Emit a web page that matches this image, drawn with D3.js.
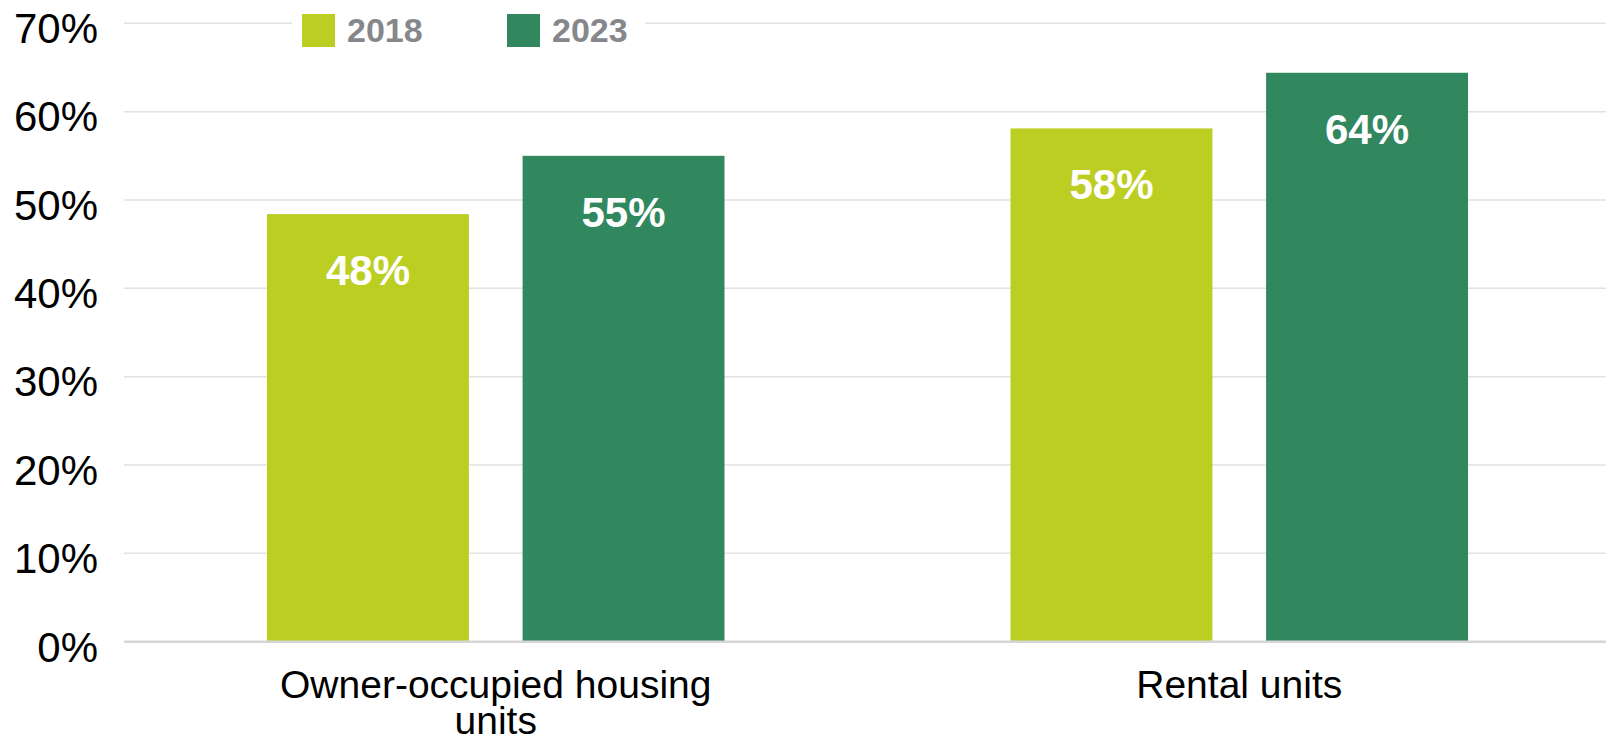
<!DOCTYPE html>
<html>
<head>
<meta charset="utf-8">
<script src="https://cdn.jsdelivr.net/npm/d3@7"></script>
<style>
  body { margin: 0; background: #fff; }
  text { font-family: "Liberation Sans", Arial, sans-serif; }
</style>
</head>
<body>
<div id="chart"></div>
<script>
// data
const categories = ["Owner-occupied housing units", "Rental units"];
const categoryLines = [["Owner-occupied housing", "units"], ["Rental units"]];
const years = ["2018", "2023"];
const values2018 = [48.4, 58.1];
const values2023 = [55.0, 64.4];
const yTicks = [0, 10, 20, 30, 40, 50, 60, 70];
const colors = ["#bdce22", "#31875e"];

let width = 1606,
    height = 740;

const svg = d3.select("#chart")
  .append("svg")
  .attr("width", width)
  .attr("height", height);

const x0 = d3.scaleBand()
  .domain(categories)
  .range([124, 1611]);

const x1 = d3.scaleBand()
  .domain(years)
  .range([143, x0.bandwidth() - 143])
  .paddingInner(0.21);

const y = d3.scaleLinear()
  .domain([0, 70])
  .range([641.7, 23.3]);

// grid
svg.append("g")
  .selectAll("line")
  .data(yTicks.filter(function (d) { return d > 0; }))
  .enter().append("line")
  .attr("x1", 124)
  .attr("x2", width)
  .attr("y1", function (d) { return y(d); })
  .attr("y2", function (d) { return y(d); })
  .style("stroke", "#e2e2e2")
  .style("stroke-width", 1.5);

// y axis labels
const yAxis = d3.axisLeft(y)
  .tickValues(yTicks)
  .tickSize(0)
  .tickPadding(0)
  .tickFormat(function (d) { return d + "%"; });

svg.append("g")
  .attr("transform", "translate(98,0)")
  .call(yAxis)
  .call(function (g) { g.select(".domain").remove(); })
  .selectAll("text")
  .attr("dy", "0.46em")
  .style("font-family", "'Liberation Sans', Arial, sans-serif")
  .style("font-size", "42px")
  .style("fill", "#000");

// bars
const rows = categories.map(function (c, i) {
  return { category: c, values: [values2018[i], values2023[i]] };
});

const group = svg.selectAll(".group")
  .data(rows)
  .enter().append("g")
  .attr("class", "group")
  .attr("transform", function (d) { return "translate(" + x0(d.category) + ",0)"; });

const bar = group.selectAll(".bar")
  .data(function (d) {
    return years.map(function (yr, j) { return { year: yr, value: d.values[j], idx: j }; });
  })
  .enter().append("g")
  .attr("class", "bar");

bar.append("rect")
  .attr("x", function (d) { return x1(d.year); })
  .attr("y", function (d) { return y(d.value); })
  .attr("width", x1.bandwidth())
  .attr("height", function (d) { return y(0) - y(d.value); })
  .style("fill", function (d) { return colors[d.idx]; });

bar.append("text")
  .attr("x", function (d) { return x1(d.year) + x1.bandwidth() / 2; })
  .attr("y", function (d) { return y(d.value) + 71; })
  .attr("text-anchor", "middle")
  .style("font-size", "42px")
  .style("font-weight", "bold")
  .style("fill", "#fff")
  .text(function (d) { return Math.round(d.value) + "%"; });

// baseline
svg.append("line")
  .attr("x1", 124)
  .attr("x2", width)
  .attr("y1", y(0))
  .attr("y2", y(0))
  .style("stroke", "#d6d6d6")
  .style("stroke-width", 2.5);

// category labels
const catLabel = svg.selectAll(".cat")
  .data(categories)
  .enter().append("text")
  .attr("class", "cat")
  .attr("text-anchor", "middle")
  .style("font-size", "39px")
  .style("fill", "#000");

catLabel.selectAll("tspan")
  .data(function (d, i) { return categoryLines[i]; })
  .enter().append("tspan")
  .attr("x", function () {
    let c = d3.select(this.parentNode).datum();
    return x0(c) + x0.bandwidth() / 2;
  })
  .attr("y", function (d, i) { return 698 + i * 36; })
  .text(function (d) { return d; });

// legend
const legend = svg.append("g");

legend.append("rect")
  .attr("x", 292)
  .attr("y", 0)
  .attr("width", 353)
  .attr("height", 52)
  .style("fill", "#fff");

const legendX = [302, 507];

const item = legend.selectAll(".item")
  .data(years)
  .enter().append("g")
  .attr("class", "item")
  .attr("transform", function (d, i) { return "translate(" + legendX[i] + ",14)"; });

item.append("rect")
  .attr("width", 33)
  .attr("height", 33)
  .style("fill", function (d, i) { return colors[i]; });

item.append("text")
  .attr("x", 45)
  .attr("y", 28)
  .style("font-size", "34px")
  .style("font-weight", "bold")
  .style("fill", "#86878b")
  .text(function (d) { return d; });
</script>
</body>
</html>
